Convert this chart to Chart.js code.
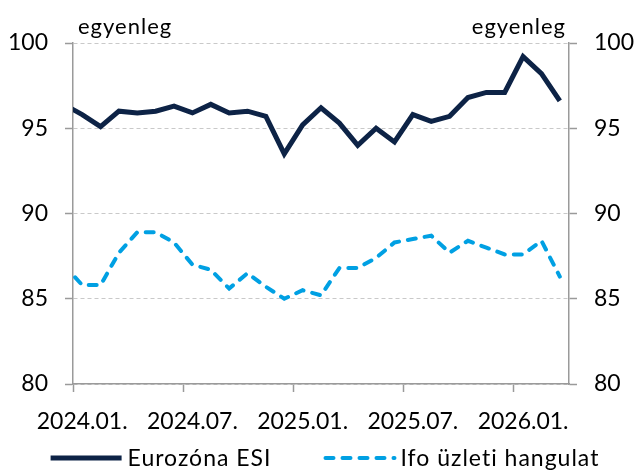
<!DOCTYPE html>
<html>
<head>
<meta charset="utf-8">
<script src="https://cdn.jsdelivr.net/npm/chart.js@4.4.1/dist/chart.umd.min.js"></script>
<style>
  html, body { margin: 0; padding: 0; background: #fff; }
  #wrap { width: 636px; height: 470px; }
</style>
</head>
<body>
<div id="wrap"><canvas id="myChart" width="636" height="470"></canvas></div>
<script>
// months (2023.12. only feeds the clipped first segment)
const months = [
  "2023.12.", "2024.01.", "2024.02.", "2024.03.", "2024.04.", "2024.05.", "2024.06.",
  "2024.07.", "2024.08.", "2024.09.", "2024.10.", "2024.11.", "2024.12.",
  "2025.01.", "2025.02.", "2025.03.", "2025.04.", "2025.05.", "2025.06.",
  "2025.07.", "2025.08.", "2025.09.", "2025.10.", "2025.11.", "2025.12.",
  "2026.01.", "2026.02.", "2026.03.",
];
const esi = [
  96.4, 95.8, 95.1, 96.0, 95.9, 96.0, 96.3, 95.9, 96.4, 95.9, 96.0, 95.7, 93.5,
  95.2, 96.2, 95.3, 94.0, 95.0, 94.2, 95.8, 95.4, 95.7, 96.8, 97.1, 97.1, 99.2, 98.2, 96.6,
];
const ifo = [
  87.0, 85.8, 85.8, 87.7, 88.9, 88.9, 88.3, 87.0, 86.7, 85.6, 86.5, 85.7, 85.0,
  85.5, 85.2, 86.8, 86.8, 87.4, 88.3, 88.5, 88.7, 87.7, 88.4, 88.0, 87.6, 87.6, 88.4, 86.3,
];
const shownTicks = ["2024.01.", "2024.07.", "2025.01.", "2025.07.", "2026.01."];
const seriesNames = ["Eurozóna ESI", "Ifo üzleti hangulat"];
const axisTitle = "egyenleg";

const FONT = "Lato";
const navy = "#0d2346";
const blue = "#00a0e3";
const axisGrey = "#9a9a9a";

// "egyenleg" over both axes + line legend at the bottom
const extras = {
  id: "extras",
  afterDraw(chart) {
    const { ctx, chartArea } = chart;
    ctx.save();
    ctx.fillStyle = "#000";
    ctx.font = "22px " + FONT;
    ctx.letterSpacing = "1px";
    ctx.textBaseline = "alphabetic";
    ctx.textAlign = "left";
    ctx.fillText(axisTitle, chartArea.left + 5, 34);
    ctx.textAlign = "right";
    ctx.fillText(axisTitle, chartArea.right - 3, 34);

    ctx.font = "23px " + FONT;
    ctx.textAlign = "left";
    const lineLen = 71, textGap = 6, itemGap = 52;
    const w1 = ctx.measureText(seriesNames[0]).width;
    const w2 = ctx.measureText(seriesNames[1]).width;
    const total = lineLen + textGap + w1 + itemGap + lineLen + textGap + w2;
    let x = (chartArea.left + chartArea.right) / 2 + 4 - total / 2;
    const y = 458;
    const items = [
      { color: navy, width: 5, dash: [], cap: "butt" },
      { color: blue, width: 4, dash: [8, 9], cap: "round" },
    ];
    items.forEach((it, i) => {
      ctx.beginPath();
      ctx.strokeStyle = it.color;
      ctx.lineWidth = it.width;
      ctx.lineCap = it.cap;
      ctx.setLineDash(it.dash);
      ctx.moveTo(x + (it.cap === "round" ? 2 : 0), y);
      ctx.lineTo(x + lineLen, y);
      ctx.stroke();
      ctx.setLineDash([]);
      ctx.fillText(seriesNames[i], x + lineLen + textGap, y + 8);
      x += lineLen + textGap + (i === 0 ? w1 : w2) + itemGap;
    });
    ctx.restore();
  },
};

const yTicks = { font: { family: FONT, size: 23 }, color: "#000", padding: 17, stepSize: 5 };

const canvas = document.getElementById("myChart");
let myChart = new Chart(canvas, {
  type: "line",
  data: {
    labels: months,
    datasets: [
      {
        label: seriesNames[0],
        data: esi,
        borderColor: navy,
        borderWidth: 5,
        pointRadius: 0,
        tension: 0,
        yAxisID: "y",
      },
      {
        label: seriesNames[1],
        data: ifo,
        borderColor: blue,
        borderWidth: 4,
        borderDash: [8, 9],
        borderCapStyle: "round",
        pointRadius: 0,
        tension: 0,
        yAxisID: "y",
      },
    ],
  },
  options: {
    responsive: false,
    animation: false,
    events: [],
    layout: { padding: { top: 43, bottom: 36, left: 0, right: 0 } },
    plugins: { legend: { display: false }, tooltip: { enabled: false } },
    scales: {
      x: {
        min: "2024.01.",
        offset: true,
        grid: {
          offset: true,
          drawOnChartArea: false,
          tickLength: 8,
          tickWidth: 1.5,
          tickColor: (c) => (c.tick && shownTicks.includes(months[c.tick.value]) ? axisGrey : "rgba(0,0,0,0)"),
        },
        border: { color: axisGrey, width: 1.5 },
        ticks: {
          autoSkip: false,
          maxRotation: 0,
          font: { family: FONT, size: 23 },
          color: "#000",
          padding: 16,
          callback: function (v) {
            const lab = this.getLabelForValue(v);
            return shownTicks.includes(lab) ? lab : "";
          },
        },
        afterFit: (s) => { s.height = 50; },
      },
      y: {
        position: "left",
        min: 80,
        max: 100,
        ticks: yTicks,
        grid: { color: "#c9c9c9", lineWidth: 1, tickLength: 8, tickColor: axisGrey, tickWidth: 1.5 },
        border: { color: axisGrey, width: 1.5, dash: [4, 3] },
        afterFit: (s) => { s.width = 73; },
      },
      y2: {
        position: "right",
        min: 80,
        max: 100,
        ticks: yTicks,
        grid: { drawOnChartArea: false, tickLength: 8, tickColor: axisGrey, tickWidth: 1.5 },
        border: { color: axisGrey, width: 1.5 },
        afterFit: (s) => { s.width = 67; },
      },
    },
  },
  plugins: [extras],
});
</script>
</body>
</html>
